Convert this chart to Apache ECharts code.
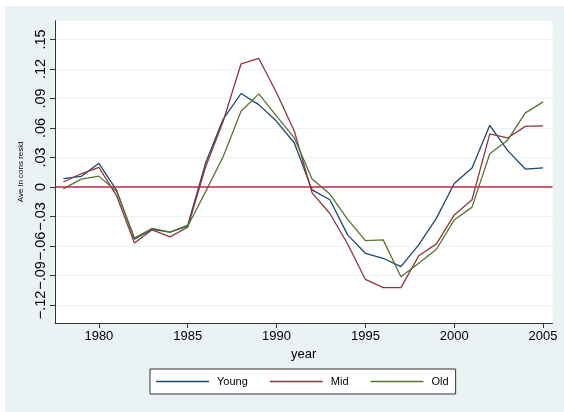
<!DOCTYPE html>
<html><head><meta charset="utf-8">
<script src="https://cdn.jsdelivr.net/npm/echarts@6/dist/echarts.min.js"></script>
<style>html,body{margin:0;padding:0;background:#fff}#c{width:564px;height:412px}</style>
</head><body><div id="c"></div>
<script>
const years = [1978,1979,1980,1981,1982,1983,1984,1985,1986,1987,1988,1989,1990,1991,1992,1993,1994,1995,1996,1997,1998,1999,2000,2001,2002,2003,2004,2005];
const young = [0.0084,0.0107,0.024,-0.0035,-0.053,-0.043,-0.046,-0.039,0.024,0.069,0.095,0.0837,0.0667,0.0447,-0.003,-0.013,-0.0487,-0.0674,-0.0725,-0.081,-0.0589,-0.0317,0.0035,0.0193,0.0627,0.0372,0.0182,0.0193];
const mid = [0.005,0.0134,0.020,-0.009,-0.057,-0.0436,-0.0507,-0.041,0.020,0.067,0.125,0.1306,0.0957,0.0566,-0.006,-0.027,-0.058,-0.094,-0.1024,-0.1024,-0.070,-0.0579,-0.0284,-0.013,0.0539,0.0498,0.0616,0.062];
const old = [-0.002,0.008,0.011,-0.0046,-0.052,-0.042,-0.046,-0.040,-0.005,0.031,0.077,0.0946,0.072,0.0498,0.008,-0.0072,-0.033,-0.0545,-0.0538,-0.0912,-0.0775,-0.0633,-0.0335,-0.0205,0.0338,0.0474,0.0753,0.0865];
const yTicks = [-0.12,-0.09,-0.06,-0.03,0,0.03,0.06,0.09,0.12,0.15];
const xTicks = [1980,1985,1990,1995,2000,2005];
const names = ['Young','Mid','Old'];
const colors = ['#1a476f','#90353b','#55752f'];

function pairs(arr){ return years.map((y,i)=>[y,arr[i]]); }
function fmtY(v){
  if (Math.abs(v) < 1e-9) return '0';
  let s = Math.abs(v).toFixed(2).replace(/^0/,'');
  return (v<0?'\u2212':'') + s;
}
const chart = echarts.init(document.getElementById('c'));
const font = 'Liberation Sans, Arial, sans-serif';
const series = [young, mid, old].map((d,i)=>({
  name: names[i], type:'line', data: pairs(d), symbol:'none',
  lineStyle:{width:1.3, color:colors[i]}, itemStyle:{color:colors[i]}, z: 3
}));
series[0].markLine = {
  silent:true, symbol:'none', label:{show:false},
  lineStyle:{color:'#c1284a', width:1.6, type:'solid'},
  data:[{yAxis:0}]
};
chart.setOption({
  animation:false,
  backgroundColor:'#ffffff',
  graphic:[{type:'rect', shape:{x:5,y:6,width:559,height:406}, style:{fill:'#eaf2f3'}, z:-10, silent:true}],
  grid:{left:55, right:11.5, top:20.7, bottom:89, show:true, backgroundColor:'#ffffff', borderWidth:0},
  xAxis:{
    type:'value', min:1977.53, max:2005.53,
    name:'year', nameLocation:'middle', nameGap:25,
    nameTextStyle:{fontFamily:font, fontSize:13, color:'#000'},
    axisLine:{show:true, onZero:false, lineStyle:{color:'#333', width:1}},
    axisTick:{show:true, length:5, customValues:xTicks, lineStyle:{color:'#333'}},
    axisLabel:{customValues:xTicks, formatter:(v)=>String(Math.round(v)), fontFamily:font, fontSize:13, color:'#000', margin:7},
    splitLine:{show:false}
  },
  yAxis:{
    type:'value', min:-0.1383, max:0.169,
    name:'Ave ln cons resid', nameLocation:'middle', nameGap:22,
    nameTextStyle:{fontFamily:font, fontSize:8, color:'#000'},
    axisLine:{show:true, onZero:false, lineStyle:{color:'#333', width:1}},
    axisTick:{show:true, length:5, customValues:yTicks, lineStyle:{color:'#333'}},
    axisLabel:{customValues:yTicks, rotate:90, formatter:fmtY, fontFamily:font, fontSize:14.5, color:'#000', margin:7},
    splitLine:{show:true, lineStyle:{color:'#eaf2f3', width:1.2}}
  },
  legend:{
    data:names, left:150, top:369,
    backgroundColor:'#ffffff', borderColor:'#333', borderWidth:1,
    padding:[7,7,7,6], itemGap:22, itemWidth:53, itemHeight:1.6,
    icon:'rect',
    textStyle:{fontFamily:font, fontSize:11, color:'#000', padding:[0,0,0,3]}
  },
  series: series
});
</script></body></html>
